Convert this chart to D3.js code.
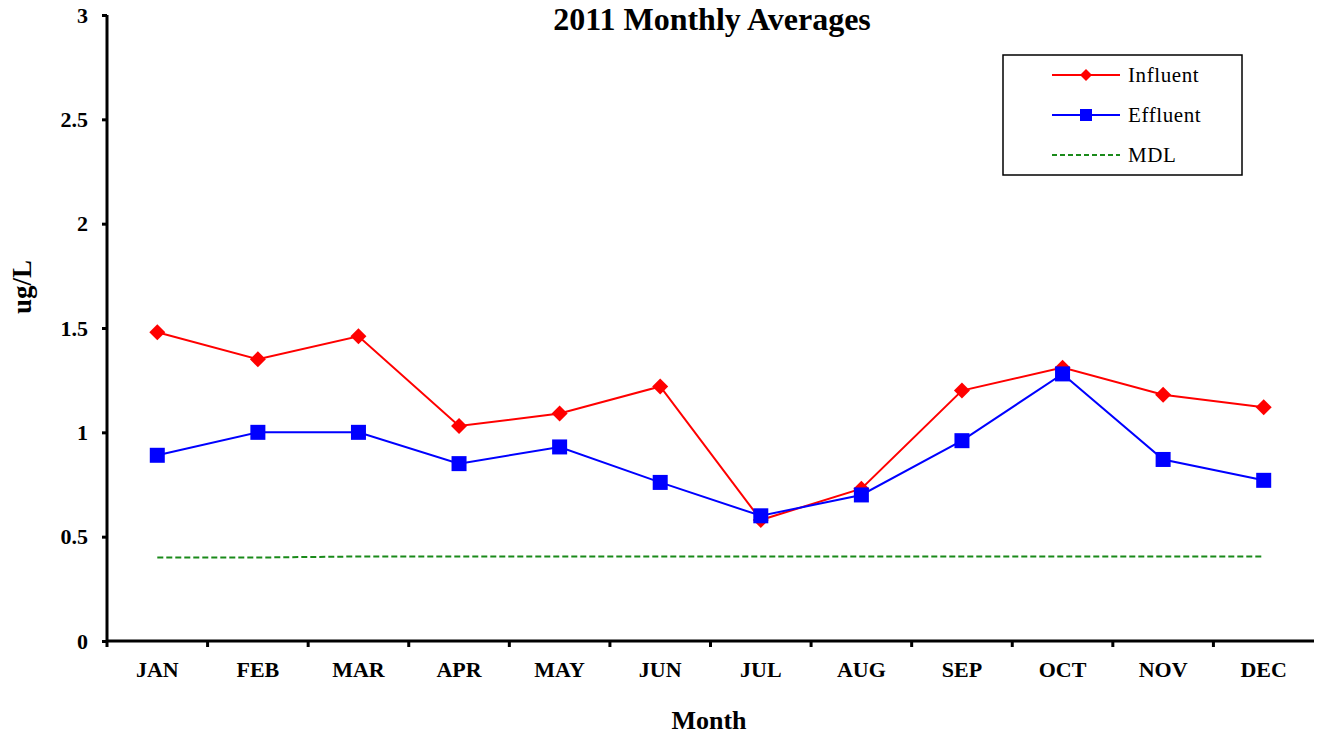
<!DOCTYPE html>
<html>
<head>
<meta charset="utf-8">
<script src="https://cdn.jsdelivr.net/npm/d3@7"></script>
<style>
  body { margin: 0; background: #fff; }
  svg { font-family: "Liberation Serif", "Times New Roman", serif; }
</style>
</head>
<body>
<div id="chart"></div>
<script>
// data
const months = ["JAN", "FEB", "MAR", "APR", "MAY", "JUN", "JUL", "AUG", "SEP", "OCT", "NOV", "DEC"];
const influent = [1.48, 1.35, 1.46, 1.03, 1.09, 1.22, 0.58, 0.73, 1.20, 1.31, 1.18, 1.12];
const effluent = [0.89, 1.00, 1.00, 0.85, 0.93, 0.76, 0.60, 0.70, 0.96, 1.28, 0.87, 0.77];
const mdl = [0.40, 0.40, 0.405, 0.405, 0.405, 0.405, 0.405, 0.405, 0.405, 0.405, 0.405, 0.405];
const yTicks = [0, 0.5, 1, 1.5, 2, 2.5, 3];

const width = 1320;
const height = 736;
const marginTop = 15;
const marginRight = 6;
const marginBottom = 95;
const marginLeft = 107;
const serif = "'Liberation Serif', 'Times New Roman', serif";

const svg = d3
  .select("#chart")
  .append("svg")
  .attr("width", width)
  .attr("height", height)
  .attr("viewBox", [0, 0, width, height])
  .style("font-family", serif);

const xScale = d3.scaleBand(months, [marginLeft, width - marginRight]).padding(0);
const yScale = d3.scaleLinear([0, 3], [height - marginBottom, marginTop]);
const xc = (m) => xScale(m) + xScale.bandwidth() / 2;

// title
svg
  .append("text")
  .attr("x", 712)
  .attr("y", 30)
  .attr("text-anchor", "middle")
  .attr("font-size", 32)
  .attr("font-weight", "bold")
  .text("2011 Monthly Averages");

// mdl dashed line
svg
  .append("path")
  .datum(months)
  .attr("fill", "none")
  .attr("stroke", "#1a8a1a")
  .attr("stroke-width", 2)
  .attr("stroke-dasharray", "6,3")
  .attr(
    "d",
    d3.line()
      .x((m) => xc(m))
      .y((m, i) => yScale(mdl[i]))
  );

const line = (vals) =>
  d3.line()
    .x((m) => xc(m))
    .y((m, i) => yScale(vals[i]));

// influent
svg
  .append("path")
  .datum(months)
  .attr("fill", "none")
  .attr("stroke", "#ff0000")
  .attr("stroke-width", 2)
  .attr("d", line(influent));

svg
  .append("g")
  .selectAll("path")
  .data(months)
  .join("path")
  .attr("d", d3.symbol(d3.symbolSquare, 128)())
  .attr("transform", (m, i) => `translate(${xc(m)},${yScale(influent[i])}) rotate(45)`)
  .attr("fill", "#ff0000");

// effluent
svg
  .append("path")
  .datum(months)
  .attr("fill", "none")
  .attr("stroke", "#0000ff")
  .attr("stroke-width", 2)
  .attr("d", line(effluent));

svg
  .append("g")
  .selectAll("rect")
  .data(months)
  .join("rect")
  .attr("x", (m) => xc(m) - 7.5)
  .attr("y", (m, i) => yScale(effluent[i]) - 7.5)
  .attr("width", 15)
  .attr("height", 15)
  .attr("fill", "#0000ff");

// y axis
svg
  .append("g")
  .attr("transform", `translate(${marginLeft},0)`)
  .call(
    d3.axisLeft(yScale)
      .tickValues(yTicks)
      .tickSize(5)
      .tickPadding(14)
      .tickFormat((d) => d3.format("")(d))
  )
  .call((g) =>
    g.select(".domain")
      .attr("d", `M0,${height - marginBottom}V${marginTop}`)
      .attr("stroke-width", 3)
  )
  .call((g) => g.selectAll(".tick line").attr("stroke-width", 3))
  .call((g) =>
    g.selectAll(".tick text")
      .attr("fill", "#000")
      .style("font-family", serif)
      .style("font-size", "22px")
      .style("font-weight", "bold")
  );

// x axis
const xAxis = svg
  .append("g")
  .attr("transform", `translate(0,${height - marginBottom})`)
  .attr("font-size", 22)
  .attr("font-weight", "bold");

xAxis
  .append("line")
  .attr("x1", marginLeft)
  .attr("x2", width - marginRight)
  .attr("stroke", "#000")
  .attr("stroke-width", 3);

xAxis
  .selectAll(".tick-mark")
  .data(months)
  .join("line")
  .attr("x1", (m) => xScale(m))
  .attr("x2", (m) => xScale(m))
  .attr("y1", 0)
  .attr("y2", 6)
  .attr("stroke", "#000")
  .attr("stroke-width", 3);

xAxis
  .selectAll(".tick-label")
  .data(months)
  .join("text")
  .attr("x", (m) => xc(m))
  .attr("y", 36)
  .attr("text-anchor", "middle")
  .text((m) => m);

// axis titles
svg
  .append("text")
  .attr("x", 709)
  .attr("y", 729)
  .attr("text-anchor", "middle")
  .attr("font-size", 26)
  .attr("font-weight", "bold")
  .text("Month");

svg
  .append("text")
  .attr("transform", "translate(31,287) rotate(-90)")
  .attr("text-anchor", "middle")
  .attr("font-size", 27)
  .attr("font-weight", "bold")
  .text("ug/L");

// legend
const legend = svg.append("g").attr("transform", "translate(1003,55)");
legend
  .append("rect")
  .attr("width", 239)
  .attr("height", 120)
  .attr("fill", "#fff")
  .attr("stroke", "#000")
  .attr("stroke-width", 1.5);

const legendItems = [
  { name: "Influent", color: "#ff0000", marker: "diamond" },
  { name: "Effluent", color: "#0000ff", marker: "square" },
  { name: "MDL", color: "#1a8a1a", marker: null },
];

legendItems.forEach((item, i) => {
  const y = 20 + i * 40;
  legend
    .append("line")
    .attr("x1", 49)
    .attr("x2", 117)
    .attr("y1", y)
    .attr("y2", y)
    .attr("stroke", item.color)
    .attr("stroke-width", 2)
    .attr("stroke-dasharray", item.marker ? null : "5,3");
  if (item.marker === "diamond") {
    legend
      .append("path")
      .attr("d", d3.symbol(d3.symbolSquare, 72)())
      .attr("transform", `translate(83,${y}) rotate(45)`)
      .attr("fill", item.color);
  } else if (item.marker === "square") {
    legend
      .append("rect")
      .attr("x", 77)
      .attr("y", y - 6)
      .attr("width", 12)
      .attr("height", 12)
      .attr("fill", item.color);
  }
  legend
    .append("text")
    .attr("x", 125)
    .attr("y", y + 7)
    .attr("font-size", 21)
    .attr("letter-spacing", 0.6)
    .text(item.name);
});
</script>
</body>
</html>
